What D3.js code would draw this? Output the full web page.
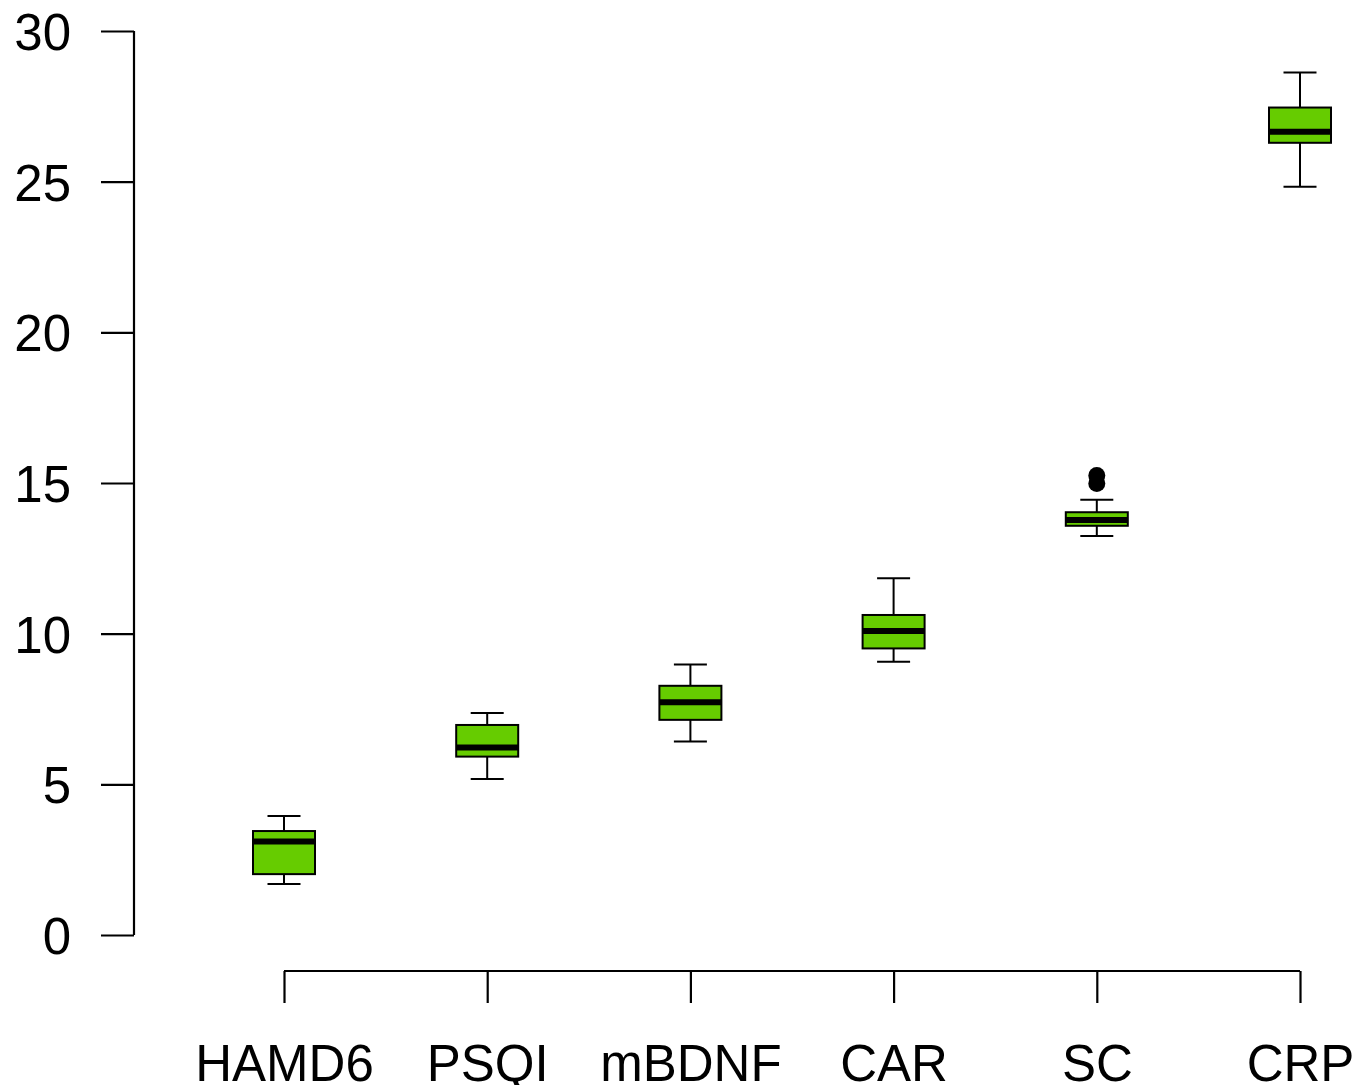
<!DOCTYPE html>
<html>
<head>
<meta charset="utf-8">
<script src="https://cdn.jsdelivr.net/npm/d3@7"></script>
<style>
  html, body { margin: 0; padding: 0; background: #fff; }
  svg { display: block; font-family: "Liberation Sans", Arial, Helvetica, sans-serif; }
</style>
</head>
<body>
<svg id="chart" width="1369" height="1085"></svg>
<script>
// Box-plot summaries per measure
const categories = ["HAMD6", "PSQI", "mBDNF", "CAR", "SC", "CRP"];
const whiskerLow  = [1.69, 5.18, 6.42, 9.07, 13.24, 24.83];
const quartile1   = [2.02, 5.92, 7.14, 9.51, 13.58, 26.29];
const medians     = [3.10, 6.22, 7.72, 10.09, 13.77, 26.66];
const quartile3   = [3.45, 6.97, 8.27, 10.62, 14.03, 27.46];
const whiskerHigh = [3.95, 7.37, 8.98, 11.84, 14.44, 28.62];
const outliers    = [[], [], [], [], [15.25, 14.98], []];
const yTicks      = [0, 5, 10, 15, 20, 25, 30];

const boxes = categories.map((c, i) => ({
  name: c, lo: whiskerLow[i], q1: quartile1[i], med: medians[i],
  q3: quartile3[i], hi: whiskerHigh[i], out: outliers[i]
}));

const svg = d3.select("#chart");
const y = d3.scaleLinear().domain([0, 30]).range([935, 31]);
const x = d3.scalePoint().domain(categories).range([284, 1300]);

const boxW = 62, capW = 33;
const fill = "#66cc00";
const fontSize = 51;

// y axis
const yAxis = svg.append("g").attr("transform", "translate(134,0)")
  .call(d3.axisLeft(y).tickValues(yTicks).tickSize(33).tickPadding(0).tickFormat(d3.format("d")));
yAxis.select(".domain").attr("stroke", "#000").attr("stroke-width", 2.2).attr("d", `M0,${y(0)}V${y(30)}`);
yAxis.selectAll(".tick line").attr("stroke", "#000").attr("stroke-width", 2.2);
yAxis.selectAll(".tick text").attr("x", -63).attr("dy", "0.36em")
  .attr("fill", "#000").attr("font-size", fontSize).attr("font-family", "Liberation Sans, Arial, sans-serif");

// x axis
const xAxis = svg.append("g").attr("transform", "translate(0,971)")
  .call(d3.axisBottom(x).tickSize(32).tickPadding(0));
xAxis.select(".domain").attr("stroke", "#000").attr("stroke-width", 2.2)
  .attr("d", `M${x(categories[0])},0H${x(categories[categories.length - 1])}`);
xAxis.selectAll(".tick line").attr("stroke", "#000").attr("stroke-width", 2.2);
xAxis.selectAll(".tick text").attr("y", 110).attr("dy", 0)
  .attr("fill", "#000").attr("font-size", fontSize).attr("font-family", "Liberation Sans, Arial, sans-serif");

// boxes
const g = svg.selectAll("g.box").data(boxes).join("g").attr("class", "box")
  .attr("transform", d => `translate(${x(d.name)},0)`);

g.append("line").attr("x1", 0).attr("x2", 0).attr("y1", d => y(d.hi)).attr("y2", d => y(d.q3))
  .attr("stroke", "#000").attr("stroke-width", 2);
g.append("line").attr("x1", 0).attr("x2", 0).attr("y1", d => y(d.q1)).attr("y2", d => y(d.lo))
  .attr("stroke", "#000").attr("stroke-width", 2);
g.append("line").attr("x1", -capW / 2).attr("x2", capW / 2).attr("y1", d => y(d.hi)).attr("y2", d => y(d.hi))
  .attr("stroke", "#000").attr("stroke-width", 2);
g.append("line").attr("x1", -capW / 2).attr("x2", capW / 2).attr("y1", d => y(d.lo)).attr("y2", d => y(d.lo))
  .attr("stroke", "#000").attr("stroke-width", 2);
g.append("rect").attr("x", -boxW / 2).attr("width", boxW)
  .attr("y", d => y(d.q3)).attr("height", d => y(d.q1) - y(d.q3))
  .attr("fill", fill).attr("stroke", "#000").attr("stroke-width", 2);
g.append("line").attr("x1", -boxW / 2).attr("x2", boxW / 2).attr("y1", d => y(d.med)).attr("y2", d => y(d.med))
  .attr("stroke", "#000").attr("stroke-width", 6);
g.selectAll("circle").data(d => d.out).join("circle")
  .attr("cx", 0).attr("cy", v => y(v)).attr("r", 8.5).attr("fill", "#000");
</script>
</body>
</html>
